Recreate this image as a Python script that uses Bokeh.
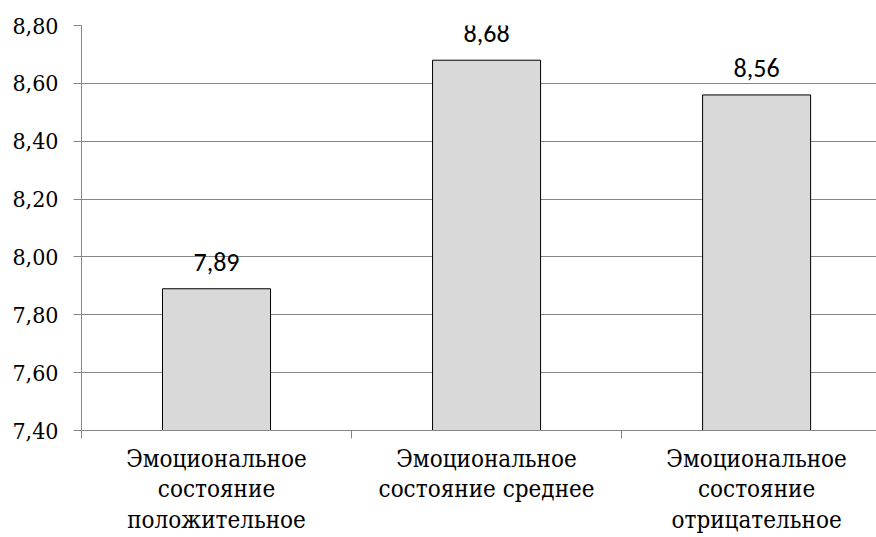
from bokeh.plotting import figure
from bokeh.models import Range1d, FixedTicker, CustomJSTickFormatter, ColumnDataSource, LabelSet
from bokeh.core.properties import value
from bokeh.embed import file_html
from bokeh.resources import INLINE

categories = [
    "Эмоциональное\nсостояние\nположительное",
    "Эмоциональное\nсостояние среднее",
    "Эмоциональное\nсостояние\nотрицательное",
]
values = [7.89, 8.68, 8.56]
value_labels = ["7,89", "8,68", "8,56"]
y_ticks = [7.40, 7.60, 7.80, 8.00, 8.20, 8.40, 8.60, 8.80]

x_centers = [i + 0.5 for i in range(len(values))]
boundaries = [float(i) for i in range(len(values) + 1)]

src = ColumnDataSource(dict(x=x_centers, top=values, label=value_labels))

SERIF = "DejaVu Serif Condensed"

p = figure(width=876, height=537, output_backend="svg", toolbar_location=None,
           x_range=Range1d(0, 2.944), y_range=Range1d(y_ticks[0], y_ticks[-1]),
           min_border_left=81, min_border_right=0, min_border_top=25, min_border_bottom=106)
p.outline_line_color = None
p.background_fill_color = "white"

p.vbar(x="x", top="top", bottom=y_ticks[0], width=0.4, source=src,
       fill_color="#d9d9d9", line_color="black", line_width=1)

labels = LabelSet(x="x", y="top", text="label", source=src, y_offset=18,
                  text_align="center", text_baseline="alphabetic",
                  text_font=value("Carlito"), text_font_size="26px", text_color="black")
p.add_layout(labels)

grid_col = "#868686"
p.xgrid.visible = False
p.ygrid.ticker = FixedTicker(ticks=y_ticks)
p.ygrid.grid_line_color = grid_col
p.ygrid.grid_line_width = 1

ya = p.yaxis[0]
ya.ticker = FixedTicker(ticks=y_ticks)
ya.formatter = CustomJSTickFormatter(code="return tick.toFixed(2).replace('.', ',');")
ya.axis_line_color = grid_col
ya.major_tick_line_color = grid_col
ya.major_tick_out = 8
ya.major_tick_in = 0
ya.minor_tick_line_color = None
ya.major_label_text_font = SERIF
ya.major_label_text_font_size = "23px"
ya.major_label_text_color = "black"
ya.major_label_standoff = 15

xa = p.xaxis[0]
xa.ticker = FixedTicker(ticks=x_centers, minor_ticks=boundaries)
xa.major_label_overrides = {xc: c for xc, c in zip(x_centers, categories)}
xa.axis_line_color = grid_col
xa.major_tick_out = 0
xa.major_tick_in = 0
xa.major_tick_line_color = None
xa.minor_tick_line_color = grid_col
xa.minor_tick_out = 8
xa.minor_tick_in = 0
xa.major_label_text_font = SERIF
xa.major_label_text_font_size = "24px"
xa.major_label_text_color = "black"
xa.major_label_text_line_height = 1.1
xa.major_label_standoff = 6

open("out.html", "w").write(file_html(p, INLINE))
